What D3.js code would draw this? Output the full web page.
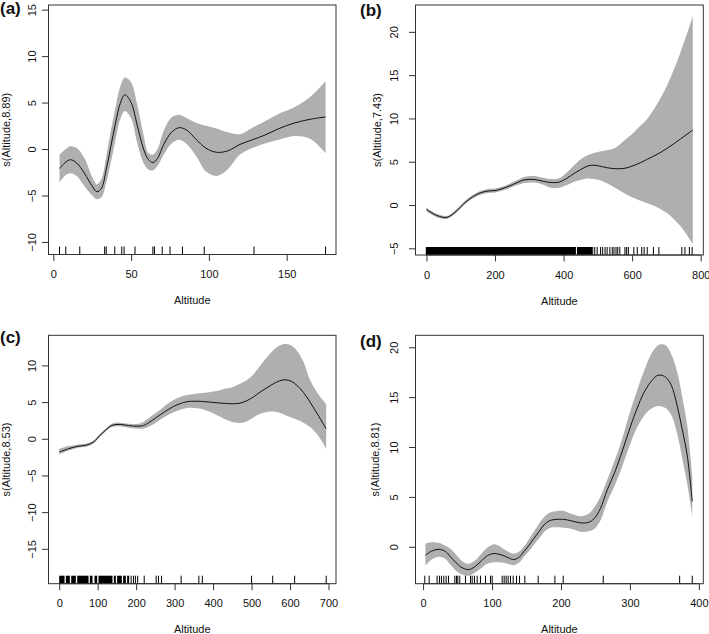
<!DOCTYPE html>
<html>
<head>
<meta charset="utf-8">
<script src="https://cdn.jsdelivr.net/npm/d3@7"></script>
<style>
  html, body { margin: 0; padding: 0; background: #fff; }
  svg text { font-family: "Liberation Sans", Arial, Helvetica, sans-serif; fill: #111; }
</style>
</head>
<body>
<svg id="chart" width="709" height="634"></svg>
<script>
// ---------------- DATA ----------------
const panelLabels = ["(a)", "(b)", "(c)", "(d)"];
const yAxisTitles = ["s(Altitude,8.89)", "s(Altitude,7.43)", "s(Altitude,8.53)", "s(Altitude,8.81)"];
const xAxisTitle = "Altitude";

// panel (a)
const aX     = [4, 8, 11, 15, 20, 25, 28, 31, 34, 37, 40, 43, 46, 50, 54, 58, 61, 64, 67, 71, 76, 81, 86, 92, 98, 105, 112, 120, 128, 136, 145, 155, 165, 175];
const aFit   = [-2.1, -1.4, -1.15, -1.5, -2.6, -4.0, -4.6, -4.2, -2.2, 0.3, 2.8, 4.9, 5.85, 5.0, 2.5, 0.0, -1.1, -1.45, -1.0, 0.5, 1.8, 2.3, 2.0, 1.0, 0.1, -0.35, -0.2, 0.5, 1.0, 1.5, 2.2, 2.8, 3.2, 3.45];
const aUpper = [-0.6, 0.0, 0.3, 0.1, -1.0, -3.0, -3.8, -3.2, -0.8, 2.0, 4.5, 6.7, 7.7, 7.2, 4.7, 1.5, -0.4, -0.6, 0.0, 2.0, 3.4, 3.7, 3.3, 2.8, 2.5, 2.2, 1.8, 1.6, 2.3, 3.0, 3.8, 4.5, 5.6, 7.3];
const aLower = [-3.6, -2.8, -2.6, -2.9, -4.0, -5.0, -5.4, -5.2, -3.6, -1.4, 1.0, 3.2, 4.1, 3.3, 0.6, -1.5, -2.2, -2.3, -1.8, -0.6, 0.6, 1.0, 0.5, -0.8, -2.4, -2.9, -2.2, -0.6, 0.1, 0.6, 1.0, 1.4, 1.1, -0.45];
const aRug   = [4, 8, 17, 33, 34, 39.5, 44, 45.5, 52.5, 64, 65, 70, 75, 83, 97, 129, 175];
const aRugBlocks = [];
const aXTicks = [0, 50, 100, 150];
const aYTicks = [-10, -5, 0, 5, 10, 15];
const aXDomain = [-3.1, 181.7];
const aYDomain = [-11.35, 15.5];

// panel (b)
const bX     = [0, 30, 60, 90, 110, 135, 158, 180, 200, 236, 265, 285, 314, 340, 363, 387, 410, 431, 450, 470, 489, 510, 528, 550, 567, 585, 600, 625, 645, 675, 704, 740, 777];
const bFit   = [-0.5, -1.2, -1.42, -0.6, 0.2, 0.95, 1.42, 1.62, 1.67, 2.1, 2.6, 2.9, 2.95, 2.75, 2.6, 2.65, 3.1, 3.66, 4.1, 4.5, 4.6, 4.45, 4.3, 4.2, 4.2, 4.3, 4.5, 4.9, 5.3, 5.9, 6.6, 7.6, 8.66];
const bUpper = [-0.3, -1.0, -1.25, -0.4, 0.4, 1.15, 1.65, 1.85, 1.9, 2.35, 2.9, 3.25, 3.35, 3.15, 3.0, 3.1, 3.8, 4.6, 5.3, 5.75, 6.0, 6.2, 6.35, 6.6, 7.1, 7.7, 8.2, 9.2, 10.0, 11.8, 14.0, 17.5, 21.8];
const bLower = [-0.75, -1.4, -1.6, -0.8, 0.0, 0.75, 1.2, 1.4, 1.45, 1.85, 2.3, 2.55, 2.6, 2.35, 2.0, 2.0, 2.3, 2.7, 2.9, 3.05, 3.0, 2.8, 2.5, 2.0, 1.6, 1.2, 0.9, 0.5, 0.2, -0.3, -1.0, -2.4, -4.5];
const bRug   = [485, 491, 498, 508, 514, 521, 527, 535, 542, 547, 553, 558, 564, 579, 584, 589, 605, 615, 628, 635, 644, 662, 678, 745, 754, 767, 775];
const bRugBlocks = [[-2, 436], [439, 483]];
const bXTicks = [0, 200, 400, 600, 800];
const bYTicks = [-5, 0, 5, 10, 15, 20];
const bXDomain = [-32, 807.6];
const bYDomain = [-5.77, 23.1];

// panel (c)
const cX     = [0, 25, 46, 72, 89, 105, 120, 137, 159, 180, 200, 219, 240, 254, 275, 297, 315, 332, 350, 367, 390, 410, 430, 453, 470, 488, 505, 522, 540, 557, 573, 587, 603, 618, 635, 652, 672, 694];
const cFit   = [-1.8, -1.35, -1.05, -0.85, -0.45, 0.4, 1.15, 1.82, 1.95, 1.8, 1.72, 1.8, 2.45, 2.96, 3.7, 4.4, 4.8, 5.05, 5.12, 5.1, 5.0, 4.9, 4.82, 4.77, 4.85, 5.2, 5.7, 6.36, 6.95, 7.5, 7.9, 8.04, 7.85, 7.27, 6.3, 5.0, 3.3, 1.37];
const cUpper = [-1.4, -1.0, -0.8, -0.65, -0.25, 0.6, 1.35, 2.05, 2.2, 2.05, 2.0, 2.3, 3.1, 3.6, 4.5, 5.3, 5.7, 5.95, 6.1, 6.2, 6.35, 6.5, 6.8, 7.1, 7.5, 8.0, 8.8, 9.9, 11.1, 12.1, 12.7, 12.9, 12.7, 12.0, 10.5, 8.0, 6.2, 4.7];
const cLower = [-2.1, -1.6, -1.25, -1.05, -0.65, 0.2, 0.95, 1.6, 1.7, 1.5, 1.4, 1.4, 1.85, 2.3, 3.0, 3.6, 3.95, 4.2, 4.2, 4.1, 3.7, 3.2, 2.7, 2.25, 2.15, 2.4, 2.9, 3.4, 3.65, 3.7, 3.55, 3.25, 2.9, 2.6, 2.2, 1.6, 0.5, -1.36];
const cRug   = [187, 193, 198, 204, 221, 252, 258, 266, 317, 363, 372, 500, 555, 612, 694];
const cRugBlocks = [[0, 13.9], [17.3, 27.7], [31.2, 43.3], [46.8, 76.2], [79.7, 86.6], [91.8, 98.7], [102.2, 138.5], [142, 147.2], [150.6, 162.8], [166.2, 173.2], [176.6, 181.8]];
const cXTicks = [0, 100, 200, 300, 400, 500, 600, 700];
const cYTicks = [-15, -10, -5, 0, 5, 10];
const cXDomain = [-27.8, 719.5];
const cYDomain = [-19.75, 14.1];

// panel (d)
const dX     = [3.4, 12, 22.8, 32, 39.7, 48, 54.2, 60, 66.3, 75, 83.3, 93, 102.6, 110, 117.3, 125, 131.6, 140, 146, 153, 160.6, 168, 175.2, 183, 189.7, 204, 215, 228.4, 240, 247.7, 257, 267, 277, 286.4, 301, 310, 320.3, 330, 339, 345, 351.8, 360, 368.6, 376, 383.2, 390.4];
const dFit   = [-0.84, -0.45, -0.25, -0.45, -1.0, -1.6, -2.0, -2.2, -2.29, -2.0, -1.5, -0.9, -0.67, -0.75, -0.9, -1.15, -1.28, -1.0, -0.5, 0.1, 0.84, 1.5, 2.19, 2.6, 2.72, 2.75, 2.6, 2.4, 2.45, 2.8, 3.8, 5.7, 7.3, 9.08, 12.1, 13.8, 15.46, 16.5, 17.15, 17.2, 17.0, 16.2, 14.1, 11.7, 9.1, 4.54];
const dUpper = [0.3, 0.45, 0.4, 0.1, -0.2, -0.8, -1.3, -1.6, -1.7, -1.4, -0.8, -0.1, 0.25, 0.1, -0.25, -0.55, -0.7, -0.45, 0.0, 0.7, 1.5, 2.3, 2.95, 3.4, 3.55, 3.6, 3.3, 3.05, 3.3, 3.9, 5.0, 6.7, 8.5, 10.3, 13.7, 15.6, 17.6, 19.2, 20.1, 20.3, 20.2, 19.3, 17.5, 15.0, 12.1, 7.0];
const dLower = [-1.9, -1.3, -1.0, -1.2, -1.8, -2.4, -2.7, -2.85, -2.9, -2.6, -2.2, -1.7, -1.55, -1.55, -1.6, -1.75, -1.85, -1.55, -1.0, -0.5, 0.2, 0.8, 1.45, 1.85, 1.95, 1.9, 1.8, 1.5, 1.55, 1.75, 2.6, 4.5, 6.0, 7.6, 10.4, 11.9, 13.1, 13.8, 14.1, 14.1, 13.9, 13.2, 11.3, 8.8, 6.3, 3.0];
const dRug   = [2.5, 8.8, 20.3, 23.7, 26.6, 30.0, 33.4, 36.8, 46, 48.4, 50.3, 53.2, 61.5, 68.8, 71.2, 74.5, 78.4, 83.2, 90.5, 97.8, 100.2, 114.7, 117.6, 120.5, 123.4, 126.8, 130.7, 135.5, 139.9, 147.6, 166.9, 191.2, 203.2, 261.3, 372.1, 390.4];
const dRugBlocks = [];
const dXTicks = [0, 100, 200, 300, 400];
const dYTicks = [0, 5, 10, 15, 20];
const dXDomain = [-11, 406.4];
const dYDomain = [-3.7, 21.2];

// ---------------- LAYOUT ----------------
const layouts = [
  { left: 48.5, right: 336, top: 5, bottom: 254.5, yTickGap: 13, yTitleX: 9.5, labelX: 0, labelY: 14 },
  { left: 415.5, right: 703.3, top: 5, bottom: 255, yTickGap: 18, yTitleX: 381, labelX: 360, labelY: 16 },
  { left: 48.5, right: 336, top: 335.3, bottom: 583.7, yTickGap: 13, yTitleX: 9.5, labelX: 0, labelY: 343 },
  { left: 415.5, right: 703.3, top: 335.3, bottom: 583.7, yTickGap: 18, yTitleX: 379, labelX: 360, labelY: 347 }
];

const panels = [
  { x: aX, fit: aFit, up: aUpper, lo: aLower, rug: aRug, blocks: aRugBlocks, xt: aXTicks, yt: aYTicks, xd: aXDomain, yd: aYDomain },
  { x: bX, fit: bFit, up: bUpper, lo: bLower, rug: bRug, blocks: bRugBlocks, xt: bXTicks, yt: bYTicks, xd: bXDomain, yd: bYDomain },
  { x: cX, fit: cFit, up: cUpper, lo: cLower, rug: cRug, blocks: cRugBlocks, xt: cXTicks, yt: cYTicks, xd: cXDomain, yd: cYDomain },
  { x: dX, fit: dFit, up: dUpper, lo: dLower, rug: dRug, blocks: dRugBlocks, xt: dXTicks, yt: dYTicks, xd: dXDomain, yd: dYDomain }
];

const svg = d3.select("#chart");
const fontSize = 11;
const tickLen = 6.5;
const rugLen = 8;

panels.forEach((p, i) => {
  const L = layouts[i];
  const g = svg.append("g");
  const x = d3.scaleLinear().domain(p.xd).range([L.left, L.right]);
  const y = d3.scaleLinear().domain(p.yd).range([L.bottom, L.top]);
  const pts = p.x.map((v, k) => ({ x: v, f: p.fit[k], u: p.up[k], l: p.lo[k] }));

  // confidence band
  g.append("path")
    .datum(pts)
    .attr("fill", "#afafaf")
    .attr("stroke", "none")
    .attr("d", d3.area().curve(d3.curveCatmullRom.alpha(0.5))
      .x(d => x(d.x)).y0(d => y(d.l)).y1(d => y(d.u)));

  // fitted smooth
  g.append("path")
    .datum(pts)
    .attr("fill", "none")
    .attr("stroke", "#111")
    .attr("stroke-width", 1)
    .attr("d", d3.line().curve(d3.curveCatmullRom.alpha(0.5))
      .x(d => x(d.x)).y(d => y(d.f)));

  // rug
  g.selectAll("rect.rugblock").data(p.blocks).enter().append("rect")
    .attr("x", d => x(d[0]))
    .attr("width", d => Math.max(1, x(d[1]) - x(d[0])))
    .attr("y", L.bottom - rugLen)
    .attr("height", rugLen)
    .attr("fill", "#000");
  g.selectAll("line.rug").data(p.rug).enter().append("line")
    .attr("x1", d => x(d)).attr("x2", d => x(d))
    .attr("y1", L.bottom).attr("y2", L.bottom - rugLen)
    .attr("stroke", "#000").attr("stroke-width", 1);

  // box
  g.append("rect")
    .attr("x", L.left).attr("y", L.top)
    .attr("width", L.right - L.left).attr("height", L.bottom - L.top)
    .attr("fill", "none").attr("stroke", "#333").attr("stroke-width", 1);

  // x axis (R style)
  const xAxis = d3.axisBottom(x).tickValues(p.xt).tickSize(tickLen).tickPadding(6).tickFormat(d3.format("d"));
  const gx = g.append("g").attr("transform", `translate(0,${L.bottom})`).call(xAxis);
  gx.select(".domain").attr("d", `M${x(p.xt[0])},0H${x(p.xt[p.xt.length - 1])}`).attr("stroke", "#333");
  gx.selectAll(".tick line").attr("stroke", "#333");
  gx.selectAll(".tick text").attr("font-size", fontSize).attr("fill", "#111")
    .attr("font-family", "Liberation Sans, Arial, sans-serif")
    .attr("y", 23.5).attr("dy", 0);

  // y axis (R style, rotated labels)
  const yAxis = d3.axisLeft(y).tickValues(p.yt).tickSize(tickLen).tickFormat(d => d < 0 ? "\u2212" + Math.abs(d) : String(d));
  const gy = g.append("g").attr("transform", `translate(${L.left},0)`).call(yAxis);
  gy.select(".domain").attr("d", `M0,${y(p.yt[0])}V${y(p.yt[p.yt.length - 1])}`).attr("stroke", "#333");
  gy.selectAll(".tick line").attr("stroke", "#333");
  gy.selectAll(".tick text")
    .attr("font-size", fontSize).attr("fill", "#111")
    .attr("font-family", "Liberation Sans, Arial, sans-serif")
    .attr("x", null).attr("dy", null)
    .attr("text-anchor", "middle")
    .attr("transform", `translate(${-L.yTickGap},0) rotate(-90)`);

  // axis titles
  g.append("text")
    .attr("x", (L.left + L.right) / 2)
    .attr("y", L.bottom + 49.5)
    .attr("text-anchor", "middle")
    .attr("font-size", fontSize)
    .text(xAxisTitle);
  g.append("text")
    .attr("transform", `translate(${L.yTitleX},${(L.top + L.bottom) / 2}) rotate(-90)`)
    .attr("text-anchor", "middle")
    .attr("font-size", fontSize)
    .text(yAxisTitles[i]);

  // panel label
  g.append("text")
    .attr("x", L.labelX).attr("y", L.labelY)
    .attr("font-size", 17).attr("font-weight", "bold")
    .text(panelLabels[i]);
});
</script>
</body>
</html>
